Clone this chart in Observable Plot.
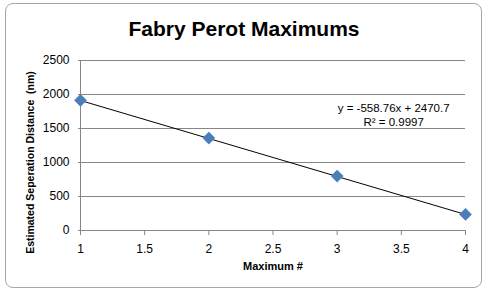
<!DOCTYPE html>
<html><head><meta charset="utf-8">
<script src="https://cdn.jsdelivr.net/npm/d3@7"></script>
<script src="https://cdn.jsdelivr.net/npm/@observablehq/plot@0.6"></script>
<style>
html,body{margin:0;padding:0;background:#fff;}
#wrap{position:relative;width:488px;height:295px;overflow:hidden;font-family:"Liberation Sans",Arial,sans-serif;}
#frame{position:absolute;left:5px;top:3px;width:477px;height:285px;border:1px solid #a6a6a6;border-radius:8px;box-sizing:border-box;}
#title{position:absolute;left:0;width:488px;top:17px;text-align:center;font-weight:bold;font-size:21px;color:#000;}
#chart{position:absolute;left:0;top:0;}
</style></head>
<body>
<div id="wrap"><div id="chart"></div><div id="frame"></div><div id="title">Fabry Perot Maximums</div></div>
<script>
const maxNum = [1, 2, 3, 4];
const distance = [1915, 1360, 800, 237];
const xTicks = [1, 1.5, 2, 2.5, 3, 3.5, 4];
const yTicks = [0, 500, 1000, 1500, 2000, 2500];
const slope = -558.76;
const intercept = 2470.7;
const eqLabel = "y = -558.76x + 2470.7";
const r2Label = "R² = 0.9997";

const data = maxNum.map((x, i) => ({x, y: distance[i]}));
const trend = [maxNum[0], maxNum[maxNum.length - 1]].map(x => ({x, y: slope * x + intercept}));

const chart = Plot.plot({
  width: 488, height: 295,
  marginLeft: 80, marginRight: 23, marginTop: 60, marginBottom: 65,
  style: {fontFamily: "'Liberation Sans', Arial, sans-serif", fontSize: "11px", color: "#000", background: "transparent"},
  x: {domain: [1, 4], ticks: xTicks, tickFormat: d => String(d), label: null},
  y: {domain: [0, 2500], ticks: yTicks, tickFormat: d => String(d), label: null},
  marks: [
    Plot.gridY(yTicks, {stroke: "#868686", strokeOpacity: 1, x1: 0.985, x2: 4}),
    Plot.ruleX([1], {stroke: "#868686"}),
    Plot.ruleY([0], {stroke: "#868686"}),
    Plot.axisY({ticks: yTicks, tickSize: 0, tickPadding: 11, fontSize: 12, label: null, tickFormat: d => String(d)}),
    Plot.axisX({ticks: xTicks, tickSize: 5, tickPadding: 9, stroke: "#868686", fontSize: 12, label: null, tickFormat: d => String(d)}),
    Plot.line(trend, {x: "x", y: "y", stroke: "#000", strokeWidth: 1}),
    Plot.dot(data, {x: "x", y: "y", symbol: "diamond2", r: 5.5, fill: "#4A7EBB", stroke: "#4A7EBB", strokeWidth: 0.5}),
    Plot.text([eqLabel], {x: 3.44, y: 1790, text: d => d, fontSize: 11.5, fill: "#000"}),
    Plot.text([r2Label], {x: 3.44, y: 1585, text: d => d, fontSize: 11.5, fill: "#000"}),
    Plot.text(["Maximum #"], {frameAnchor: "bottom", dy: 39, text: d => d, fontWeight: "bold", fontSize: 11, fill: "#000"}),
    Plot.text(["Estimated Seperation Distance  (nm)"], {frameAnchor: "left", textAnchor: "middle", dx: -50, dy: 17, rotate: -90, text: d => d, fontWeight: "bold", fontSize: 10.5, fill: "#000"})
  ]
});
document.getElementById("chart").appendChild(chart);
</script>
</body></html>
